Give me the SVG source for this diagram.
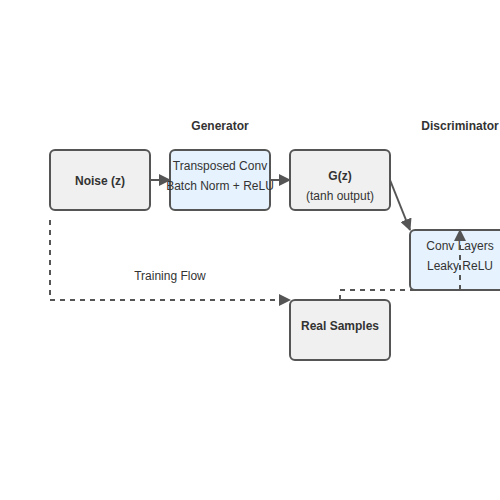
<svg xmlns="http://www.w3.org/2000/svg" width="500" height="500" viewBox="0 0 500 500">
<style>
.box{stroke:#555;stroke-width:2}
.gray{fill:#f0f0f0}
.blue{fill:#e6f2fd}
text{font-family:"Liberation Sans",Arial,sans-serif;font-size:12px;fill:#333;text-anchor:middle}
.b{font-weight:bold}
.c{fill:none;stroke:#555;stroke-width:2}
.d{stroke-dasharray:5,5}
</style>
<defs>
<marker id="ah" markerWidth="12" markerHeight="12" refX="11" refY="6" orient="auto" markerUnits="userSpaceOnUse">
<path d="M0,0 L12,6 L0,12 z" fill="#555"/>
</marker>
</defs>
<rect width="500" height="500" fill="#fff"/>
<text class="b" x="220" y="130">Generator</text>
<text class="b" x="460" y="130">Discriminator</text>
<text x="170" y="280">Training Flow</text>
<g id="noise"><rect class="box gray" x="50" y="150" width="100" height="60" rx="5"/><text class="b" x="100" y="185">Noise (z)</text></g>
<g id="tconv"><rect class="box blue" x="170" y="150" width="100" height="60" rx="5"/><text x="220" y="170">Transposed Conv</text><text x="220" y="190">Batch Norm + ReLU</text></g>
<g id="gz"><rect class="box gray" x="290" y="150" width="100" height="60" rx="5"/><text class="b" x="340" y="180">G(z)</text><text x="340" y="200">(tanh output)</text></g>
<g id="disc"><rect class="box blue" x="410" y="230" width="100" height="60" rx="5"/><text x="460" y="250">Conv Layers</text><text x="460" y="270">Leaky ReLU</text></g>
<g id="real"><rect class="box gray" x="290" y="300" width="100" height="60" rx="5"/><text class="b" x="340" y="330">Real Samples</text></g>
<g id="connectors">
<line class="c" x1="150" y1="180" x2="170" y2="180" marker-end="url(#ah)"/>
<line class="c" x1="270" y1="180" x2="290" y2="180" marker-end="url(#ah)"/>
<line class="c" x1="390" y1="180" x2="410" y2="230" marker-end="url(#ah)"/>
<path class="c d" d="M50,220 L50,300 L290,300" marker-end="url(#ah)"/>
<path class="c d" d="M340,300 L340,290 L460,290 L460,230" marker-end="url(#ah)"/>
</g>
</svg>
